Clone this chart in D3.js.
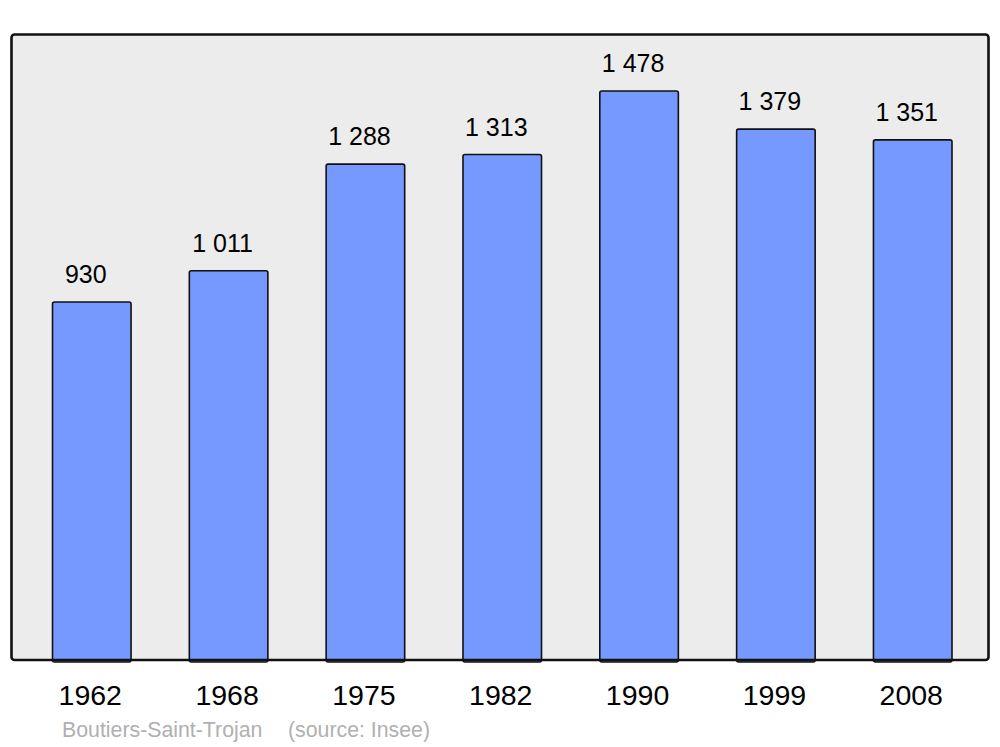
<!DOCTYPE html>
<html>
<head>
<meta charset="utf-8">
<script src="https://cdn.jsdelivr.net/npm/d3@7"></script>
<style>
  html, body { margin: 0; padding: 0; background: #fff; }
  svg { display: block; }
</style>
</head>
<body>
<svg id="chart" width="1000" height="747"></svg>
<script>
const years = ["1962", "1968", "1975", "1982", "1990", "1999", "2008"];
const population = [930, 1011, 1288, 1313, 1478, 1379, 1351];
const valueLabels = ["930", "1 011", "1 288", "1 313", "1 478", "1 379", "1 351"];
const captionName = "Boutiers-Saint-Trojan";
const captionSource = "(source: Insee)";

const svg = d3.select("#chart");
const font = "'Liberation Sans', Arial, sans-serif";

const x = d3.scaleBand().domain(years).range([52.5, 952]).paddingInner(0.426).paddingOuter(0);
const y = d3.scaleLinear().domain([0, 1626]).range([660, 34]);

// frame background
svg.append("rect")
  .attr("x", 11.5).attr("y", 34.5)
  .attr("width", 977).attr("height", 625.5)
  .attr("rx", 3).attr("ry", 3)
  .attr("fill", "#ececec")
  .attr("stroke", "none");

// bars
svg.selectAll("rect.bar")
  .data(years)
  .join("rect")
  .attr("class", "bar")
  .attr("x", d => x(d))
  .attr("y", (d, i) => y(population[i]))
  .attr("width", x.bandwidth())
  .attr("height", (d, i) => y(0) - y(population[i]) + 2)
  .attr("rx", 2).attr("ry", 2)
  .attr("fill", "#7599ff")
  .attr("stroke", "#111")
  .attr("stroke-width", 1.6);

// frame border on top
svg.append("rect")
  .attr("x", 11.5).attr("y", 34.5)
  .attr("width", 977).attr("height", 625.5)
  .attr("rx", 3).attr("ry", 3)
  .attr("fill", "none")
  .attr("stroke", "#111")
  .attr("stroke-width", 2.6);

// value labels
svg.selectAll("text.val")
  .data(years)
  .join("text")
  .attr("class", "val")
  .attr("x", d => x(d) + x.bandwidth() / 2 - 6)
  .attr("y", (d, i) => y(population[i]) - 19)
  .attr("text-anchor", "middle")
  .attr("font-family", font)
  .attr("font-size", 25)
  .attr("fill", "#000")
  .text((d, i) => valueLabels[i]);

// x axis labels
const xAxis = d3.axisBottom(x).tickSize(0).tickPadding(0);
const gx = svg.append("g").attr("transform", "translate(-1.5,705)").call(xAxis);
gx.select(".domain").remove();
gx.selectAll("text")
  .attr("dy", 0)
  .attr("font-family", font)
  .attr("font-size", 28.5)
  .attr("fill", "#000");

// caption
svg.append("text")
  .attr("x", 62).attr("y", 737)
  .attr("font-family", font)
  .attr("font-size", 21.3)
  .attr("fill", "#b0b0b0")
  .text(captionName);
svg.append("text")
  .attr("x", 288).attr("y", 737)
  .attr("font-family", font)
  .attr("font-size", 21.3)
  .attr("fill", "#b0b0b0")
  .text(captionSource);
</script>
</body>
</html>
